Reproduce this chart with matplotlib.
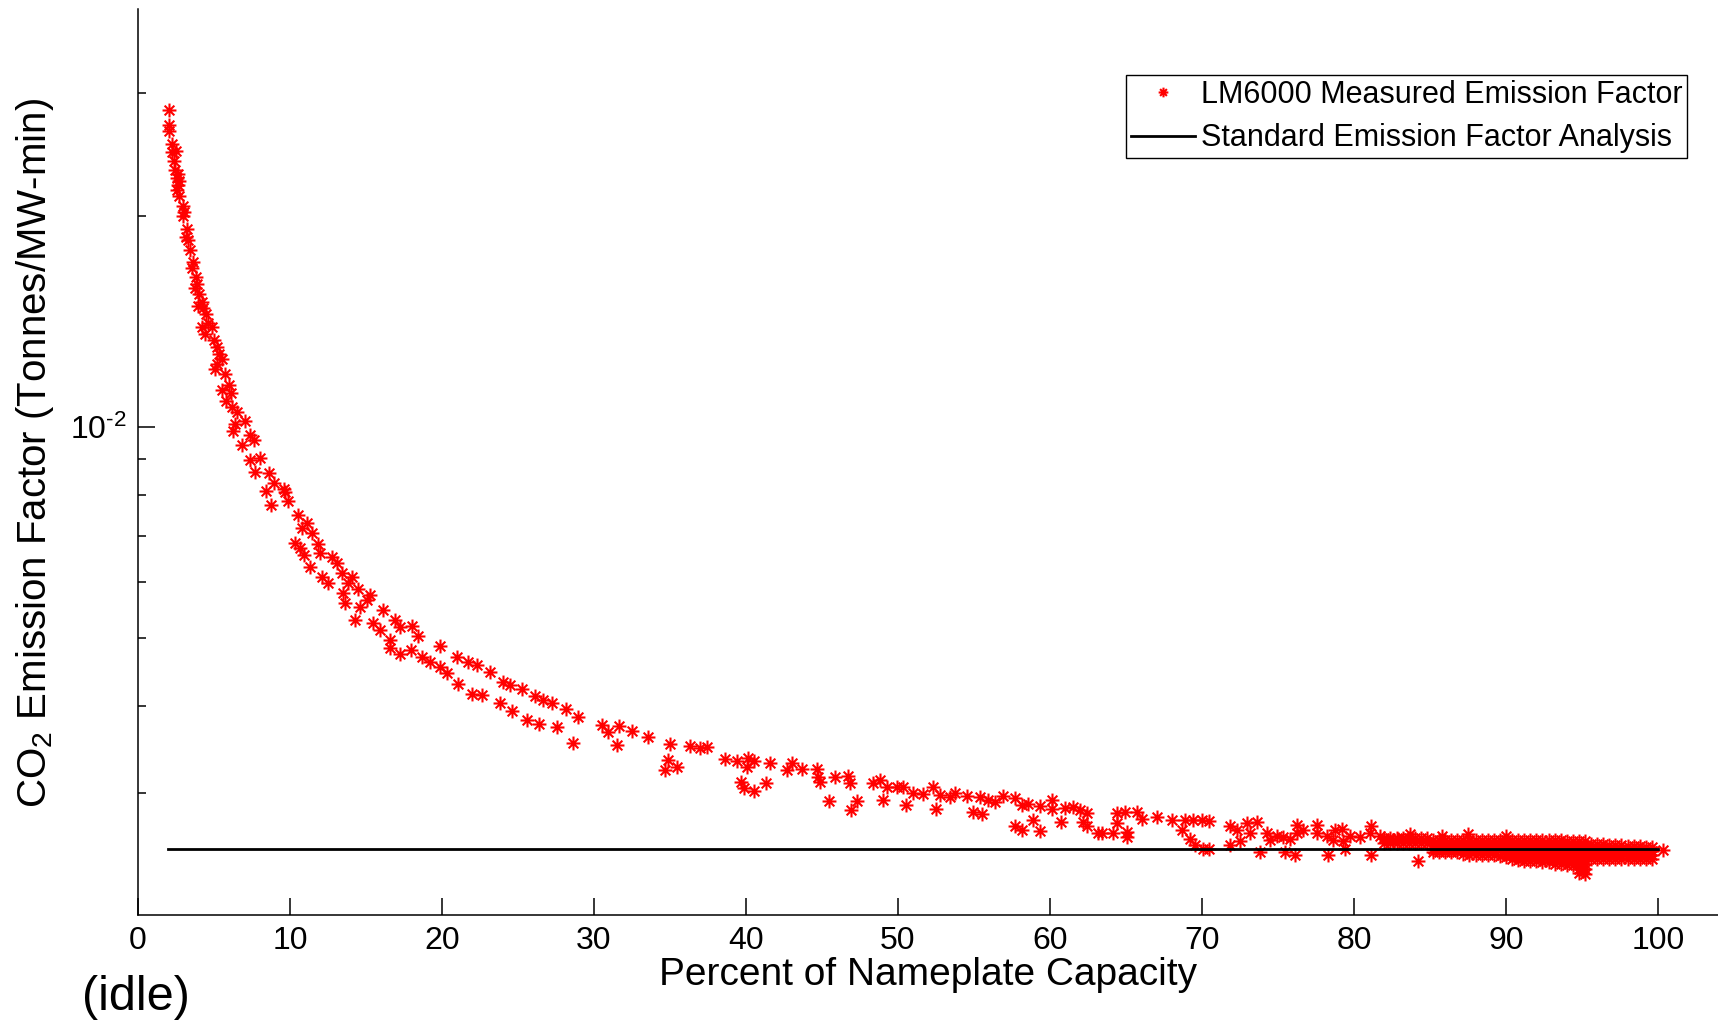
import matplotlib
matplotlib.use('Agg')
import matplotlib.pyplot as plt
from matplotlib.path import Path
from matplotlib.ticker import LogLocator, NullFormatter, FixedLocator
import numpy as np

plt.rcParams['font.family'] = ['Liberation Sans', 'DejaVu Sans']
plt.rcParams['mathtext.fontset'] = 'custom'
plt.rcParams['mathtext.rm'] = 'Liberation Sans'
plt.rcParams['mathtext.it'] = 'Liberation Sans:italic'
plt.rcParams['mathtext.bf'] = 'Liberation Sans:bold'

# measured emission factor (Tonnes/MW-min) vs percent of nameplate capacity
# steep part, low load
steep_x = [2.06, 2.06, 2.06, 2.26, 2.22, 2.50, 2.43, 2.55, 2.65, 2.59, 2.72, 2.98, 2.98,
           3.20, 3.16, 3.42, 3.53, 3.82, 3.75, 3.90, 4.19, 3.97, 4.47, 4.19, 4.41, 4.85,
           5.00, 5.35, 5.18, 5.07, 5.72, 6.01, 5.51, 5.79, 6.16, 6.53, 7.04, 6.38, 6.27,
           7.37, 7.63, 6.82, 7.37, 8.03, 7.70, 8.64, 8.95, 9.61,
           2.40, 2.60, 2.70, 3.00, 3.30, 3.60, 4.00, 4.30, 4.60, 5.20, 5.50, 6.10]
steep_y = [0.0284, 0.0270, 0.0265, 0.0254, 0.0247, 0.0248, 0.0233, 0.0227, 0.0222, 0.0218,
           0.0214, 0.0207, 0.0200, 0.0192, 0.0187, 0.0179, 0.0169, 0.0164, 0.0158, 0.0160,
           0.0151, 0.0149, 0.0145, 0.0139, 0.0136, 0.0139, 0.0133, 0.0127, 0.0123, 0.0121,
           0.0119, 0.0115, 0.0113, 0.0109, 0.0107, 0.0105, 0.0102, 0.0101, 0.00988,
           0.00974, 0.00960, 0.00943, 0.00897, 0.00902, 0.00863, 0.00859, 0.00831, 0.00815,
           0.0240, 0.0230, 0.0225, 0.0203, 0.0185, 0.0172, 0.0155, 0.0148, 0.0141, 0.0130,
           0.0125, 0.0112]

# knee of the curve, 8-34 %
knee_x = [8.40, 9.67, 9.89, 8.75, 10.55, 11.10, 10.77, 11.43, 11.86, 10.33, 10.66, 10.92,
          11.97, 12.74, 13.07, 11.32, 13.40, 14.06, 12.09, 12.52, 13.84, 14.49, 13.51, 15.26,
          13.62, 15.05, 14.61, 16.14, 14.28, 16.91, 15.48, 17.24, 15.92, 18.01, 18.44, 16.58,
          16.58, 17.24, 17.94, 19.87, 18.66, 19.21, 19.87, 20.31, 20.97, 21.73, 22.28, 21.07,
          23.16, 21.95, 22.61, 24.03, 24.47, 25.24, 23.82, 24.59, 26.12, 26.66, 27.22, 25.57,
          26.40, 27.55, 28.16, 28.97, 28.64, 30.51, 30.94, 31.66, 32.48, 31.49, 33.57]
knee_y = [0.00811, 0.00808, 0.00785, 0.00774, 0.00750, 0.00729, 0.00717, 0.00705, 0.00681,
          0.00684, 0.00671, 0.00656, 0.00660, 0.00653, 0.00639, 0.00631, 0.00618, 0.00611,
          0.00611, 0.00599, 0.00598, 0.00588, 0.00579, 0.00575, 0.00561, 0.00566, 0.00553,
          0.00548, 0.00531, 0.00530, 0.00525, 0.00518, 0.00513, 0.00520, 0.00503, 0.00496,
          0.00483, 0.00474, 0.00480, 0.00487, 0.00469, 0.00462, 0.00455, 0.00445, 0.00469,
          0.00462, 0.00457, 0.00430, 0.00447, 0.00416, 0.00414, 0.00433, 0.00428, 0.00423,
          0.00403, 0.00393, 0.00413, 0.00407, 0.00403, 0.00382, 0.00377, 0.00373, 0.00396,
          0.00385, 0.00354, 0.00376, 0.00367, 0.00374, 0.00368, 0.00352, 0.00361]

# tail, 35-83 %
tail_x = [35.00, 34.89, 34.67, 35.44, 36.32, 36.97, 37.41, 38.62, 39.39, 40.15, 40.53, 40.05,
          39.65, 39.87, 40.53, 41.32, 41.58, 42.68, 43.01, 43.66, 44.65, 44.76, 44.87, 45.86,
          46.73, 46.84, 45.48, 46.89, 47.28, 48.34, 48.82, 49.26, 49.03, 49.91, 50.31, 50.53,
          51.01, 51.66, 52.32, 52.50, 52.76, 53.42, 53.75, 54.52, 54.91, 55.51, 55.39, 55.94,
          56.38, 56.93, 57.70, 58.14, 58.57, 57.70, 58.14, 58.90, 59.34, 59.34, 60.11, 60.11,
          60.72, 60.99, 61.49, 61.97, 62.41, 62.19, 62.45, 63.18, 63.39, 64.16, 65.04, 65.04,
          64.39, 64.93, 65.74, 66.03, 67.02, 68.01, 68.88, 69.43, 69.98, 70.48, 68.66, 69.21,
          69.54, 70.09, 70.48, 64.39, 71.84, 73.82, 75.46, 76.12, 78.31, 79.41, 81.10, 81.10,
          71.84, 72.28, 72.94, 73.60, 73.16, 74.26, 74.91, 75.35, 76.23, 76.23, 76.67, 77.55,
          77.55, 78.20, 78.75, 79.19, 78.64, 79.74, 80.39, 81.05, 81.71, 82.15, 82.59, 82.91,
          72.50, 74.47, 75.79, 79.30]
tail_y = [0.00353, 0.00335, 0.00324, 0.00327, 0.00350, 0.00348, 0.00349, 0.00336, 0.00334,
          0.00337, 0.00334, 0.00327, 0.00311, 0.00305, 0.00302, 0.00310, 0.00331, 0.00324,
          0.00331, 0.00325, 0.00325, 0.00316, 0.00311, 0.00316, 0.00317, 0.00310, 0.00292,
          0.00284, 0.00292, 0.00310, 0.00313, 0.00306, 0.00293, 0.00306, 0.00306, 0.00289,
          0.00300, 0.00299, 0.00306, 0.00285, 0.00298, 0.00296, 0.00300, 0.00297, 0.00282,
          0.00280, 0.00296, 0.00293, 0.00291, 0.00297, 0.00295, 0.00289, 0.00290, 0.00269,
          0.00266, 0.00275, 0.00265, 0.00288, 0.00293, 0.00285, 0.00273, 0.00286, 0.00287,
          0.00284, 0.00281, 0.00273, 0.00269, 0.00263, 0.00263, 0.00263, 0.00264, 0.00260,
          0.00281, 0.00282, 0.00282, 0.00276, 0.00277, 0.00275, 0.00275, 0.00275, 0.00275,
          0.00274, 0.00266, 0.00258, 0.00253, 0.00250, 0.00250, 0.00272, 0.00253, 0.00247,
          0.00247, 0.00245, 0.00245, 0.00250, 0.00245, 0.00269,
          0.00269, 0.00266, 0.00272, 0.00273, 0.00263, 0.00263, 0.00261, 0.00260, 0.00270,
          0.00263, 0.00266, 0.00270, 0.00263, 0.00261, 0.00266, 0.00267, 0.00257, 0.00261,
          0.00260, 0.00263, 0.00261, 0.00257, 0.00257, 0.00258,
          0.00256, 0.00257, 0.00258, 0.00256]

# dense band near full load: column x -> measured values
band_columns = {
    82.0: [0.00259, 0.00255], 82.4: [0.00259, 0.00255], 82.8: [0.00259, 0.00255],
    83.2: [0.00259, 0.00255], 83.6: [0.00259, 0.00255], 84.0: [0.00259, 0.00255],
    84.4: [0.00259, 0.00255], 84.8: [0.00259, 0.00255],
    85.2: [0.00257, 0.00253, 0.00250, 0.00247], 85.6: [0.00257, 0.00253, 0.00250, 0.00247],
    86.0: [0.00257, 0.00253, 0.00250, 0.00247], 86.4: [0.00257, 0.00253, 0.00250, 0.00247],
    86.8: [0.00257, 0.00253, 0.00250, 0.00247], 87.2: [0.00257, 0.00253, 0.00250, 0.00246],
    87.6: [0.00257, 0.00253, 0.00249, 0.00245], 88.0: [0.00257, 0.00253, 0.00249, 0.00245],
    88.4: [0.00257, 0.00253, 0.00249, 0.00245], 88.8: [0.00257, 0.00253, 0.00249, 0.00245],
    89.2: [0.00257, 0.00253, 0.00249, 0.00245], 89.6: [0.00257, 0.00253, 0.00249, 0.00244],
    90.0: [0.00257, 0.00253, 0.00249, 0.00246, 0.00243], 90.4: [0.00257, 0.00253, 0.00249, 0.00246, 0.00242],
    90.8: [0.00257, 0.00253, 0.00249, 0.00246, 0.00243, 0.00241],
    91.2: [0.00257, 0.00253, 0.00249, 0.00246, 0.00243, 0.00240],
    91.6: [0.00257, 0.00253, 0.00249, 0.00246, 0.00243, 0.00240],
    92.0: [0.00257, 0.00253, 0.00249, 0.00246, 0.00243, 0.00240],
    92.4: [0.00257, 0.00253, 0.00249, 0.00246, 0.00243, 0.00239],
    92.8: [0.00257, 0.00253, 0.00249, 0.00246, 0.00242, 0.00239],
    93.2: [0.00257, 0.00253, 0.00249, 0.00246, 0.00242, 0.00238],
    93.6: [0.00257, 0.00253, 0.00249, 0.00246, 0.00242, 0.00238],
    94.0: [0.00256, 0.00252, 0.00248, 0.00245, 0.00241, 0.00237],
    94.4: [0.00256, 0.00252, 0.00248, 0.00245, 0.00241, 0.00237],
    94.8: [0.00256, 0.00252, 0.00248, 0.00245, 0.00241, 0.00238, 0.00234, 0.00231],
    95.2: [0.00256, 0.00252, 0.00248, 0.00245, 0.00241, 0.00238, 0.00234, 0.00230],
    95.6: [0.00254, 0.00250, 0.00246, 0.00242], 96.0: [0.00254, 0.00250, 0.00246, 0.00242],
    96.4: [0.00254, 0.00250, 0.00246, 0.00242], 96.8: [0.00253, 0.00249, 0.00245, 0.00242],
    97.2: [0.00253, 0.00249, 0.00245, 0.00242], 97.6: [0.00253, 0.00249, 0.00245, 0.00242],
    98.0: [0.00252, 0.00249, 0.00245, 0.00242], 98.4: [0.00252, 0.00249, 0.00245, 0.00242],
    98.8: [0.00252, 0.00249, 0.00245, 0.00242], 99.2: [0.00251, 0.00248, 0.00245, 0.00242],
    99.6: [0.00251, 0.00248, 0.00245, 0.00242],
}
band_extra_x = [84.2, 100.3, 83.7, 85.8, 87.5, 90.0]
band_extra_y = [0.00240, 0.00249, 0.00262, 0.00261, 0.00262, 0.00261]

# standard emission factor analysis
std_x = [2.0, 100.0]
std_y = [0.0025, 0.0025]

band_x = [k for k, v in band_columns.items() for _ in v] + band_extra_x
band_y = [y for v in band_columns.values() for y in v] + band_extra_y
meas_x = np.array(steep_x + knee_x + tail_x + band_x)
meas_y = np.array(steep_y + knee_y + tail_y + band_y)

# matlab-style asterisk marker
star = Path([(-1, 0), (1, 0), (0, -1), (0, 1), (-0.7, -0.7), (0.7, 0.7), (-0.7, 0.7), (0.7, -0.7)],
            [Path.MOVETO, Path.LINETO] * 4)

fig = plt.figure(figsize=(17.18, 10.21), dpi=100)
ax = fig.add_axes([138 / 1718, 106 / 1021, 1 - 138 / 1718, 906 / 1021])

ax.plot(meas_x, meas_y, linestyle='none', marker=star, ms=10, mew=1.5, color='red',
        label='LM6000 Measured Emission Factor')
ax.plot(std_x, std_y, color='black', lw=2, label='Standard Emission Factor Analysis')

ax.set_yscale('log')
ax.set_xlim(0, 103.95)
ax.set_ylim(0.00201, 0.03955)
ax.set_xticks(np.arange(0, 101, 10))
ax.yaxis.set_major_locator(FixedLocator([0.01]))
ax.set_yticklabels(['10$^{\\text{-}2}$'])
ax.yaxis.set_minor_locator(LogLocator(base=10, subs=np.arange(2, 10)))
ax.yaxis.set_minor_formatter(NullFormatter())
ax.tick_params(which='major', direction='in', length=12, width=1.1, labelsize=23, pad=8)
ax.tick_params(which='minor', direction='in', length=6, width=1.1)
for s in ['top', 'right']:
    ax.spines[s].set_visible(False)
for s in ['left', 'bottom']:
    ax.spines[s].set_linewidth(1.1)

ax.set_xlabel('Percent of Nameplate Capacity', fontsize=28)
ax.xaxis.set_label_coords(0.5, -0.046)
ax.set_ylabel('CO$_2$ Emission Factor (Tonnes/MW-min)', fontsize=29)
ax.yaxis.set_label_coords(-0.052, 0.51)

leg = ax.legend(loc='upper right', bbox_to_anchor=(1687 / 1718, 1 - 75 / 1021),
                bbox_transform=fig.transFigure, borderaxespad=0, fancybox=False,
                edgecolor='black', framealpha=1, fontsize=22, handlelength=2.1,
                handletextpad=0.2, borderpad=0.15, labelspacing=0.45, markerscale=0.7)
leg.get_frame().set_linewidth(1.0)

fig.text(82 / 1718, 1 - 997 / 1021, '(idle)', fontsize=35, ha='left', va='center')

fig.savefig('out.png', dpi=100)
